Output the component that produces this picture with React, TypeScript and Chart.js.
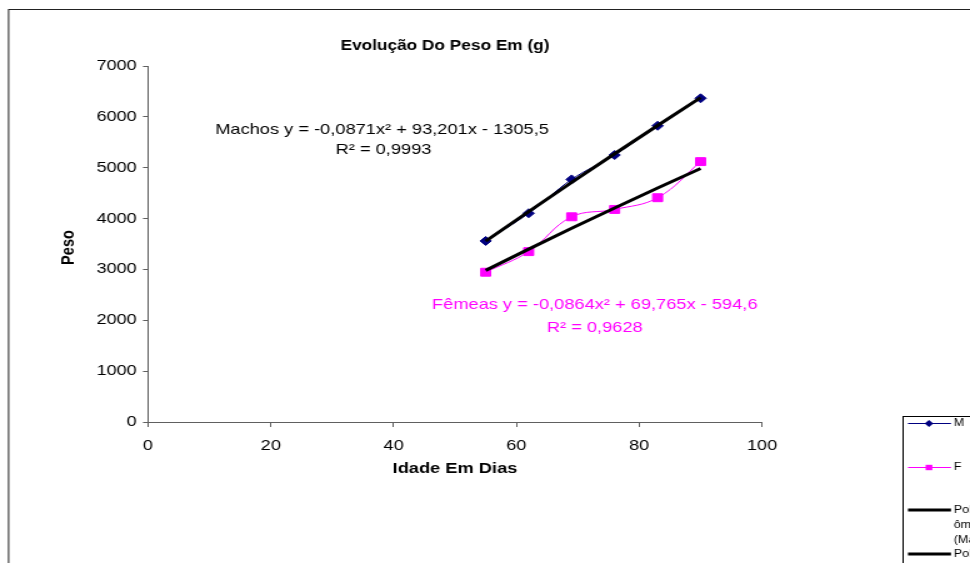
import React, { useEffect, useRef } from 'react';
import { Chart, registerables } from 'chart.js';

Chart.register(...registerables);

// ---- data ----
const ages = [55, 62, 69, 76, 83, 90];
const machos = [3560, 4105, 4770, 5250, 5825, 6365];
const femeas = [2945, 3350, 4035, 4180, 4410, 5120];
const machosTrend = [3557, 4138, 4711, 5275, 5830, 6377];
const femeasTrend = [2981, 3399, 3808, 4209, 4601, 4985];
const xTicks = [0, 20, 40, 60, 80, 100];
const yTicks = [0, 1000, 2000, 3000, 4000, 5000, 6000, 7000];

const titleText = 'Evolução Do Peso Em (g)';
const xTitleText = 'Idade Em Dias';
const yTitleText = 'Peso';
const machosEq = ['Machos y = -0,0871x² + 93,201x - 1305,5', 'R² = 0,9993'];
const femeasEq = ['Fêmeas y = -0,0864x² + 69,765x - 594,6', 'R² = 0,9628'];
const legendM = 'M';
const legendF = 'F';
const legendPolyM = ['Polin', 'ômio', '(Machos)'];
const legendPolyF = ['Polin', 'ômio', '(Fêmeas)'];

const FONT = "'Liberation Sans', Arial, sans-serif";
const NAVY = '#000080';
const MAGENTA = '#FF00FF';
const AXIS = '#606060';

// internal canvas is drawn narrower and stretched horizontally, like the reference
const INTERNAL_W = 776;
const H = 563;

const overlayPlugin = {
  id: 'overlay',
  afterDraw(chart: any) {
    const ctx: CanvasRenderingContext2D = chart.ctx;
    ctx.save();
    // outer chart border
    ctx.strokeStyle = '#222';
    ctx.lineWidth = 1;
    ctx.strokeRect(6.9, 9.5, 2000, 2000);

    ctx.fillStyle = '#000';
    ctx.textAlign = 'center';
    ctx.textBaseline = 'middle';
    ctx.font = `bold 13.8px ${FONT}`;
    ctx.fillText(titleText, 356, 46);

    ctx.font = `bold 14.6px ${FONT}`;
    ctx.fillText(xTitleText, 364, 469);
    ctx.save();
    ctx.translate(54.8, 247.5);
    ctx.rotate(-Math.PI / 2);
    ctx.fillText(yTitleText, 0, 0);
    ctx.restore();

    ctx.font = `14.6px ${FONT}`;
    ctx.fillText(machosEq[0], 305.6, 130);
    ctx.fillText(machosEq[1], 306.8, 150);
    ctx.fillStyle = MAGENTA;
    ctx.fillText(femeasEq[0], 475.8, 305);
    ctx.fillText(femeasEq[1], 475.8, 327.5);

    // legend
    ctx.strokeStyle = '#000';
    ctx.lineWidth = 1;
    ctx.strokeRect(722.5, 416.5, 200, 300);
    const lx0 = 726.4;
    const lx1 = 760.8;
    const mx = 743.2;
    const tx = 763;
    ctx.textAlign = 'left';
    ctx.font = `10px ${FONT}`;

    // M
    ctx.strokeStyle = NAVY;
    ctx.beginPath();
    ctx.moveTo(lx0, 423.5);
    ctx.lineTo(lx1, 423.5);
    ctx.stroke();
    ctx.fillStyle = NAVY;
    ctx.beginPath();
    ctx.moveTo(mx, 423.5 - 3.5);
    ctx.lineTo(mx + 3.5, 423.5);
    ctx.lineTo(mx, 423.5 + 3.5);
    ctx.lineTo(mx - 3.5, 423.5);
    ctx.closePath();
    ctx.fill();
    ctx.fillStyle = '#000';
    ctx.fillText(legendM, tx, 423.5);

    // F
    ctx.strokeStyle = MAGENTA;
    ctx.beginPath();
    ctx.moveTo(lx0, 467.5);
    ctx.lineTo(lx1, 467.5);
    ctx.stroke();
    ctx.fillStyle = MAGENTA;
    ctx.fillRect(mx - 2.7, 467.5 - 2.7, 5.4, 5.4);
    ctx.fillStyle = '#000';
    ctx.fillText(legendF, tx, 467.5);

    // polynomial trend entries
    ctx.strokeStyle = '#000';
    ctx.lineWidth = 3;
    ctx.beginPath();
    ctx.moveTo(lx0, 510);
    ctx.lineTo(lx1, 510);
    ctx.moveTo(lx0, 554);
    ctx.lineTo(lx1, 554);
    ctx.stroke();
    ctx.fillText(legendPolyM[0], tx, 510);
    ctx.fillText(legendPolyM[1], tx, 525.5);
    ctx.fillText(legendPolyM[2], tx, 540);
    ctx.fillText(legendPolyF[0], tx, 554);
    ctx.fillText(legendPolyF[1], tx, 569.5);
    ctx.restore();
  },
};

export default function App() {
  const ref = useRef<HTMLCanvasElement | null>(null);

  useEffect(() => {
    if (!ref.current) return;
    const toPts = (ys: number[]) => ages.map((x, i) => ({ x, y: ys[i] }));
    const chart = new Chart(ref.current, {
      type: 'scatter',
      data: {
        datasets: [
          {
            label: 'Polinômio (Machos)',
            data: toPts(machosTrend),
            showLine: true,
            borderColor: '#000',
            borderWidth: 3,
            pointRadius: 0,
            tension: 0,
            order: 0,
          },
          {
            label: 'Polinômio (Fêmeas)',
            data: toPts(femeasTrend),
            showLine: true,
            borderColor: '#000',
            borderWidth: 3,
            pointRadius: 0,
            tension: 0,
            order: 0,
          },
          {
            label: 'M',
            data: toPts(machos),
            showLine: true,
            borderColor: NAVY,
            backgroundColor: NAVY,
            borderWidth: 1,
            pointStyle: 'rectRot',
            pointRadius: 4.5,
            pointBorderWidth: 1,
            tension: 0.4,
            order: 1,
          },
          {
            label: 'F',
            data: toPts(femeas),
            showLine: true,
            borderColor: MAGENTA,
            backgroundColor: MAGENTA,
            borderWidth: 1,
            pointStyle: 'rect',
            pointRadius: 5.6,
            pointBorderWidth: 1,
            tension: 0.4,
            order: 1,
          },
        ],
      },
      options: {
        animation: false,
        responsive: false,
        devicePixelRatio: 1,
        layout: { padding: { left: 0, top: 66, right: INTERNAL_W - 609.6, bottom: 563 - 422 - 40 } },
        plugins: {
          legend: { display: false },
          title: { display: false },
          tooltip: { enabled: false },
        },
        scales: {
          x: {
            type: 'linear',
            min: 0,
            max: 100,
            afterBuildTicks: (s: any) => {
              s.ticks = xTicks.map((v) => ({ value: v }));
            },
            afterFit: (s: any) => {
              s.height = 40;
            },
            grid: { drawOnChartArea: false, drawTicks: true, tickLength: 5, color: AXIS },
            border: { display: true, color: AXIS, width: 1 },
            ticks: {
              color: '#000',
              font: { family: FONT, size: 14.5 },
              padding: 10,
              maxRotation: 0,
              callback: (v: any) => String(v),
            },
          },
          y: {
            type: 'linear',
            min: 0,
            max: 7000,
            afterBuildTicks: (s: any) => {
              s.ticks = yTicks.map((v) => ({ value: v }));
            },
            afterFit: (s: any) => {
              s.width = 118.4;
            },
            grid: { drawOnChartArea: false, drawTicks: true, tickLength: 4, color: AXIS },
            border: { display: true, color: AXIS, width: 1 },
            ticks: {
              color: '#000',
              font: { family: FONT, size: 14.5 },
              padding: 5,
              callback: (v: any) => String(v),
            },
          },
        },
      },
      plugins: [overlayPlugin],
    });
    return () => chart.destroy();
  }, []);

  return (
    <div
      style={{
        position: 'fixed',
        left: 0,
        top: 0,
        width: 970,
        height: H,
        overflow: 'hidden',
        background: '#fff',
      }}
    >
      <canvas
        ref={ref}
        width={INTERNAL_W}
        height={H}
        style={{ width: '970px', height: H + 'px', display: 'block' }}
      />
    </div>
  );
}
